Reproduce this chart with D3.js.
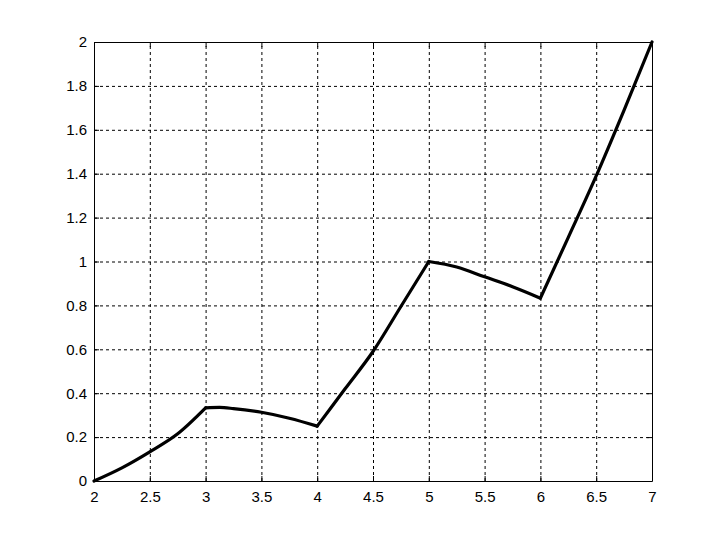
<!DOCTYPE html>
<html>
<head>
<meta charset="utf-8">
<style>
  body { margin: 0; background: #fff; }
  .grid line { stroke: #000; stroke-dasharray: 3,3; stroke-width: 1; }
  .grid path { display: none; }
  .axis path, .axis line { stroke: #000; }
  .axis text { font: 15px "Liberation Sans", Arial, sans-serif; fill: #000; }
</style>
</head>
<body>
<script src="https://d3js.org/d3.v7.min.js"></script>
<script>

// Values (curve has corners at x = 3, 4, 5, 6)
var xVals = [2, 2.25, 2.5, 2.75, 3, 3.125, 3.25, 3.5, 3.75, 4, 4.25, 4.5, 4.75, 5, 5.25, 5.5, 5.75, 6, 6.25, 6.5, 6.75, 7];
var yVals = [0, 0.06, 0.133, 0.215, 0.333, 0.335, 0.33, 0.313, 0.286, 0.25, 0.42, 0.59, 0.795, 1.0, 0.975, 0.93, 0.885, 0.833, 1.11, 1.39, 1.69, 2.0];
var corners = [2, 3, 4, 5, 6, 7];
var xTicks = [2, 2.5, 3, 3.5, 4, 4.5, 5, 5.5, 6, 6.5, 7];
var yTicks = [0, 0.2, 0.4, 0.6, 0.8, 1, 1.2, 1.4, 1.6, 1.8, 2];

// Margins
var margin = {top: 42, right: 67, bottom: 59, left: 94},
    width = 719 - margin.left - margin.right,
    height = 540 - margin.top - margin.bottom;

var x = d3.scaleLinear().domain([2, 7]).range([0, width]);
var y = d3.scaleLinear().domain([0, 2]).range([height, 0]);

var svg = d3.select("body")
    .append("svg")
    .attr("width", 719)
    .attr("height", 540)
    .append("g")
    .attr("transform", "translate(" + margin.left + "," + margin.top + ")");

// Gridlines
svg.append("g")
    .attr("class", "grid")
    .attr("transform", "translate(0," + height + ")")
    .call(d3.axisBottom(x).tickValues(xTicks.slice(1, -1)).tickSize(-height).tickFormat(""));

svg.append("g")
    .attr("class", "grid")
    .call(d3.axisLeft(y).tickValues(yTicks.slice(1, -1)).tickSize(-width).tickFormat(""));

// Build the data and split it into the pieces between corners
var data = xVals.map(function(v, i) { return {x: v, y: yVals[i]}; });
var pieces = [];
for (var k = 0; k < corners.length - 1; k++) {
    pieces.push(data.filter(function(d) { return d.x >= corners[k] && d.x <= corners[k + 1]; }));
}

var line = d3.line()
    .x(function(d) { return x(d.x); })
    .y(function(d) { return y(d.y); })
    .curve(d3.curveMonotoneX);

svg.selectAll(".piece")
    .data(pieces)
    .enter()
    .append("path")
    .attr("class", "piece")
    .attr("d", line)
    .attr("fill", "none")
    .attr("stroke", "#000")
    .attr("stroke-width", 3.2)
    .attr("stroke-linejoin", "round")
    .attr("stroke-linecap", "round");

// Axes (ticks pointing inward, box all round)
svg.append("g")
    .attr("class", "axis")
    .attr("transform", "translate(0," + height + ")")
    .call(d3.axisBottom(x).tickValues(xTicks).tickSize(-5).tickPadding(10).tickSizeOuter(0)
        .tickFormat(function(d) { return d; }));

svg.append("g")
    .attr("class", "axis")
    .call(d3.axisLeft(y).tickValues(yTicks).tickSize(-5).tickPadding(7).tickSizeOuter(0)
        .tickFormat(function(d) { return d; }));

svg.append("g")
    .attr("class", "axis")
    .call(d3.axisTop(x).tickValues(xTicks).tickSize(-5).tickSizeOuter(0).tickFormat(""));

svg.append("g")
    .attr("class", "axis")
    .attr("transform", "translate(" + width + ",0)")
    .call(d3.axisRight(y).tickValues(yTicks).tickSize(-5).tickSizeOuter(0).tickFormat(""));

</script>
</body>
</html>
